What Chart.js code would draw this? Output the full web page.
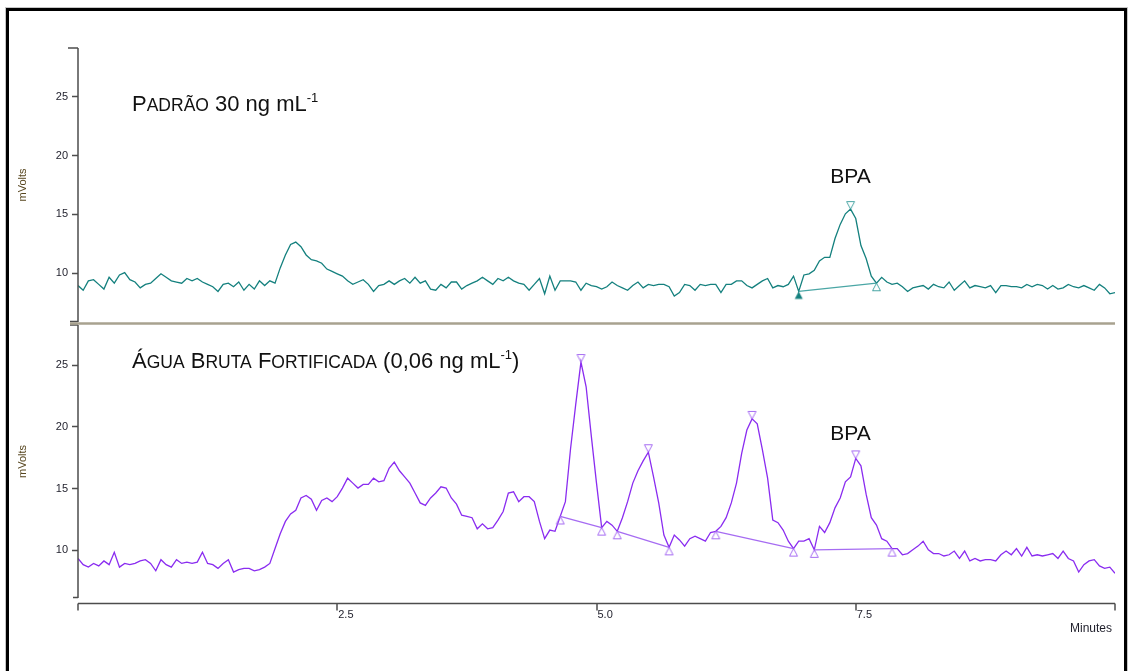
<!DOCTYPE html>
<html lang="pt">
<head>
<meta charset="utf-8">
<title>Cromatogramas - BPA</title>
<script src="https://cdn.jsdelivr.net/npm/chart.js@4.4.1/dist/chart.umd.min.js"></script>
<style>
    html, body { margin: 0; padding: 0; background: #fff; }
    body { position: relative; width: 1129px; height: 671px; overflow: hidden; font-family: "Liberation Sans", Arial, sans-serif; }
    #frame { position: absolute; left: 6px; top: 8px; width: 1121px; height: 700px; box-sizing: border-box; border: 3px solid #000; box-shadow: 0 0 0 1px #c6c6c6; }
    canvas { position: absolute; left: 0; top: 0; }
    .titulo { position: absolute; left: 132px; font-size: 22px; line-height: 1; color: #111; white-space: nowrap; }
    .titulo .sm { font-size: 17.5px; }
    .titulo sup { font-size: 13px; vertical-align: baseline; position: relative; top: -9px; }
</style>
</head>
<body>
<div id="frame"></div>
<canvas id="aguaCanvas" width="1129" height="671"></canvas>
<canvas id="padraoCanvas" width="1129" height="671"></canvas>
<div class="titulo" style="top:93px">P<span class="sm">ADRÃO</span> 30 ng mL<sup>-1</sup></div>
<div class="titulo" style="top:350px">Á<span class="sm">GUA</span> B<span class="sm">RUTA</span> F<span class="sm">ORTIFICADA</span> (0,06 ng mL<sup>-1</sup>)</div>

<script>
// detector sampled every 0.05 min, 0 to 10 min
const SAMPLE_STEP = 0.05;

// mV, standard 30 ng/mL
const padraoSignal = [
    8.9, 8.5, 9.3, 9.4, 9.0, 8.6, 9.6, 9.1, 9.8, 10.0,
    9.4, 9.2, 8.7, 9.0, 9.1, 9.5, 9.9, 9.6, 9.3, 9.2,
    9.1, 9.5, 9.3, 9.5, 9.2, 9.0, 8.8, 8.4, 9.0, 9.1,
    8.8, 9.2, 8.5, 9.0, 8.6, 9.3, 8.9, 9.3, 9.1, 10.4,
    11.5, 12.4, 12.6, 12.2, 11.5, 11.1, 11.0, 10.8, 10.3, 10.1,
    9.9, 9.7, 9.3, 9.0, 9.2, 9.4, 9.0, 8.4, 8.9, 9.0,
    9.3, 9.0, 9.3, 9.5, 9.1, 9.6, 9.1, 9.3, 8.6, 8.5,
    9.0, 8.7, 9.2, 9.2, 8.6, 8.9, 9.1, 9.3, 9.6, 9.3,
    9.0, 9.5, 9.3, 9.6, 9.3, 9.1, 9.0, 8.5, 9.0, 9.5,
    8.2, 9.7, 8.5, 9.3, 9.3, 9.3, 9.2, 8.5, 9.1, 8.9,
    8.8, 8.6, 8.8, 9.2, 8.9, 8.7, 8.5, 8.9, 9.2, 8.7,
    9.0, 8.9, 9.0, 9.0, 8.8, 8.0, 8.3, 9.0, 8.9, 8.5,
    9.0, 8.9, 9.0, 9.0, 8.3, 9.0, 9.0, 9.3, 9.3, 8.9,
    8.7, 9.0, 9.3, 9.5, 8.7, 8.9, 8.8, 9.0, 9.7, 8.4,
    9.8, 9.9, 10.2, 11.0, 11.3, 11.3, 12.9, 14.1, 15.0, 15.4,
    14.6, 12.3, 11.2, 9.7, 9.1, 9.6, 9.2, 9.0, 9.1, 8.8,
    8.4, 8.7, 8.8, 8.9, 8.6, 9.0, 8.8, 8.7, 9.2, 8.5,
    8.9, 9.3, 8.7, 8.9, 8.8, 8.7, 8.9, 8.3, 8.9, 8.9,
    8.8, 8.8, 8.7, 9.0, 8.8, 9.0, 8.9, 8.6, 8.9, 8.6,
    8.7, 9.0, 8.8, 8.7, 8.9, 8.7, 8.5, 9.0, 8.7, 8.2,
    8.3
];

// mV, fortified raw water 0.06 ng/mL
const aguaSignal = [
    9.3, 8.8, 8.6, 8.9, 8.7, 9.1, 8.8, 9.8, 8.6, 8.9,
    8.8, 8.9, 9.1, 9.2, 8.9, 8.3, 9.2, 8.8, 8.6, 9.2,
    8.9, 9.0, 8.9, 9.0, 9.8, 8.9, 8.8, 8.5, 8.9, 9.2,
    8.2, 8.4, 8.5, 8.5, 8.3, 8.4, 8.6, 8.9, 10.1, 11.3,
    12.3, 12.9, 13.2, 14.2, 14.4, 14.1, 13.2, 14.0, 14.2, 13.9,
    14.3, 15.0, 15.8, 15.4, 15.0, 15.3, 15.3, 15.8, 15.5, 15.6,
    16.6, 17.1, 16.4, 15.9, 15.4, 14.6, 13.8, 13.6, 14.2, 14.6,
    15.1, 15.0, 14.2, 13.7, 12.8, 12.7, 12.6, 11.7, 12.1, 11.7,
    11.8, 12.4, 13.1, 14.6, 14.7, 13.9, 14.3, 14.3, 13.9, 12.3,
    10.9, 11.6, 11.5, 12.7, 13.9, 18.2, 21.8, 25.2, 23.2, 19.2,
    15.4, 11.8, 12.3, 12.0, 11.5, 12.6, 13.9, 15.4, 16.4, 17.2,
    17.9, 15.9, 13.8, 11.2, 10.2, 11.2, 10.8, 10.3, 10.9, 11.1,
    10.9, 10.7, 11.4, 11.5, 11.9, 12.6, 13.8, 15.4, 17.8, 19.7,
    20.6, 20.2, 18.1, 15.8, 12.4, 12.2, 11.6, 10.7, 10.1, 10.7,
    10.7, 10.9, 10.0, 11.9, 11.4, 12.2, 13.4, 14.2, 15.5, 15.9,
    17.4, 16.8, 14.5, 12.6, 12.0, 10.9, 10.7, 10.1, 10.1, 9.6,
    9.7, 10.0, 10.3, 10.7, 10.0, 9.7, 9.7, 9.5, 9.6, 9.9,
    9.3, 9.9, 9.1, 9.3, 9.1, 9.2, 9.2, 9.1, 9.6, 9.9,
    9.6, 10.1, 9.5, 10.2, 9.5, 9.6, 9.5, 9.6, 9.7, 9.3,
    9.9, 9.3, 9.1, 8.2, 8.8, 9.1, 9.2, 8.7, 8.5, 8.6,
    8.1
];

// integration results (retention times in min)
const padraoPeaks = [7.45];
const padraoBaselines = [[6.95, 7.70]];
const aguaPeaks = [4.85, 5.50, 6.50, 7.50];
const aguaBaselines = [[4.65, 5.05], [5.20, 5.70], [6.15, 6.90], [7.10, 7.85]];

const xTicks = [0, 2.5, 5.0, 7.5, 10];
const xTickLabels = ['', '2.5', '5.0', '7.5', ''];
const yTicks = [10, 15, 20, 25];

// peak name labels: [text, min, mV]
const padraoLabel = ['BPA', 7.45, 17.6];
const aguaLabel = ['BPA', 7.45, 18.9];

const FONT = '"Liberation Sans", Arial, sans-serif';

function valueAt(signal, t) {
    return signal[Math.round(t / SAMPLE_STEP)];
}

function toPoints(signal) {
    return signal.map((v, i) => ({ x: +(i * SAMPLE_STEP).toFixed(2), y: v }));
}

// small triangle sprites, tip sits on the data point
function triangle(color, pointsDown, filled) {
    const c = document.createElement('canvas');
    c.width = 11;
    c.height = 20;
    const g = c.getContext('2d');
    g.strokeStyle = color;
    g.fillStyle = color;
    g.lineWidth = 1;
    g.beginPath();
    if (pointsDown) {
        g.moveTo(1.5, 2.5); g.lineTo(9.5, 2.5); g.lineTo(5.5, 10);
    } else {
        g.moveTo(5.5, 10); g.lineTo(9.5, 17.5); g.lineTo(1.5, 17.5);
    }
    g.closePath();
    if (filled) g.fill(); else g.stroke();
    return c;
}

const chromAxes = {
    id: 'chromAxes',
    afterDraw(chart, args, opts) {
        const { ctx, chartArea } = chart;
        const xs = chart.scales.x;
        const ys = chart.scales.y;
        const left = chartArea.left;
        ctx.save();

        // vertical axis and its ticks
        ctx.strokeStyle = '#4d4d4d';
        ctx.lineWidth = 1.5;
        ctx.beginPath();
        ctx.moveTo(left, chartArea.top);
        ctx.lineTo(left, chartArea.bottom);
        yTicks.forEach(v => {
            const py = Math.round(ys.getPixelForValue(v)) + 0.5;
            ctx.moveTo(left - 6, py);
            ctx.lineTo(left, py);
        });
        ctx.moveTo(left - opts.topTick, chartArea.top);
        ctx.lineTo(left, chartArea.top);
        ctx.moveTo(left - opts.bottomTick, chartArea.bottom - 0.5);
        ctx.lineTo(left, chartArea.bottom - 0.5);
        ctx.stroke();

        ctx.fillStyle = '#1e1e2a';
        ctx.font = '11px ' + FONT;
        ctx.textAlign = 'right';
        ctx.textBaseline = 'middle';
        yTicks.forEach(v => ctx.fillText(String(v), left - 10, ys.getPixelForValue(v) + 0.5));

        // axis title
        ctx.save();
        ctx.translate(23, (chartArea.top + chartArea.bottom) / 2);
        ctx.rotate(-Math.PI / 2);
        ctx.textAlign = 'center';
        ctx.textBaseline = 'middle';
        ctx.fillStyle = '#57461f';
        ctx.fillText('mVolts', 0, 0);
        ctx.restore();

        if (opts.separator) {
            ctx.strokeStyle = '#a8a28f';
            ctx.lineWidth = 2.5;
            ctx.beginPath();
            ctx.moveTo(left - 8, chartArea.bottom + 1.5);
            ctx.lineTo(chartArea.right, chartArea.bottom + 1.5);
            ctx.stroke();
        }

        if (opts.timeAxis) {
            const ay = chartArea.bottom + 5.5;
            ctx.strokeStyle = '#4d4d4d';
            ctx.lineWidth = 1.5;
            ctx.beginPath();
            ctx.moveTo(left, ay);
            ctx.lineTo(chartArea.right, ay);
            xTicks.forEach(t => {
                const px = Math.round(xs.getPixelForValue(t));
                ctx.moveTo(px, ay);
                ctx.lineTo(px, ay + 7);
            });
            ctx.stroke();

            ctx.fillStyle = '#1e1e2a';
            ctx.font = '11px ' + FONT;
            ctx.textAlign = 'left';
            ctx.textBaseline = 'alphabetic';
            xTicks.forEach((t, i) => {
                ctx.fillText(xTickLabels[i], xs.getPixelForValue(t) + 1, ay + 14);
            });
            ctx.font = '12px ' + FONT;
            ctx.textAlign = 'right';
            ctx.fillText('Minutes', chartArea.right - 3, ay + 28);
        }

        // peak name
        const lbl = opts.label;
        ctx.fillStyle = '#111';
        ctx.font = '21px ' + FONT;
        ctx.textAlign = 'center';
        ctx.textBaseline = 'alphabetic';
        ctx.fillText(lbl[0], xs.getPixelForValue(lbl[1]), ys.getPixelForValue(lbl[2]));

        ctx.restore();
    }
};

function buildChart(canvasId, cfg) {
    const datasets = [{
        data: toPoints(cfg.signal),
        borderColor: cfg.color,
        borderWidth: 1.3,
        pointRadius: 0,
        tension: 0,
        order: 2
    }];

    cfg.baselines.forEach((pair, k) => {
        datasets.push({
            data: pair.map(t => ({ x: t, y: valueAt(cfg.signal, t) })),
            borderColor: cfg.markColor,
            borderWidth: 1.3,
            pointRadius: 4,
            pointStyle: cfg.baselineMarks(k),
            clip: false,
            order: 1
        });
    });

    const downMark = triangle(cfg.markColor, true, false);
    datasets.push({
        data: cfg.peaks.map(t => ({ x: t, y: valueAt(cfg.signal, t) })),
        showLine: false,
        pointRadius: 4,
        pointStyle: downMark,
        clip: false,
        order: 0
    });

    return new Chart(document.getElementById(canvasId), {
        type: 'line',
        data: { datasets: datasets },
        options: {
            responsive: false,
            animation: false,
            events: [],
            layout: { padding: cfg.padding },
            scales: {
                x: { type: 'linear', min: 0, max: 10, display: false },
                y: { type: 'linear', min: cfg.yMin, max: cfg.yMax, display: false }
            },
            plugins: {
                legend: { display: false },
                tooltip: { enabled: false },
                chromAxes: cfg.axes
            }
        },
        plugins: [chromAxes]
    });
}

document.addEventListener('DOMContentLoaded', () => {
    const tealMark = '#4aa6a5';
    const purpleMark = '#a66cf2';

    buildChart('padraoCanvas', {
        signal: padraoSignal,
        peaks: padraoPeaks,
        baselines: padraoBaselines,
        color: '#14807e',
        markColor: tealMark,
        baselineMarks: () => [triangle('#14807e', false, true), triangle(tealMark, false, false)],
        yMin: 5.8,
        yMax: 29.1,
        padding: { left: 78, right: 14, top: 48, bottom: 349 },
        axes: { topTick: 10, bottomTick: 8, separator: true, timeAxis: false, label: padraoLabel }
    });

    buildChart('aguaCanvas', {
        signal: aguaSignal,
        peaks: aguaPeaks,
        baselines: aguaBaselines,
        color: '#8a2cf0',
        markColor: purpleMark,
        baselineMarks: () => [triangle(purpleMark, false, false), triangle(purpleMark, false, false)],
        yMin: 6.1,
        yMax: 28.2,
        padding: { left: 78, right: 14, top: 325, bottom: 73 },
        axes: { topTick: 8, bottomTick: 5, separator: false, timeAxis: true, label: aguaLabel }
    });
});
</script>
</body>
</html>
